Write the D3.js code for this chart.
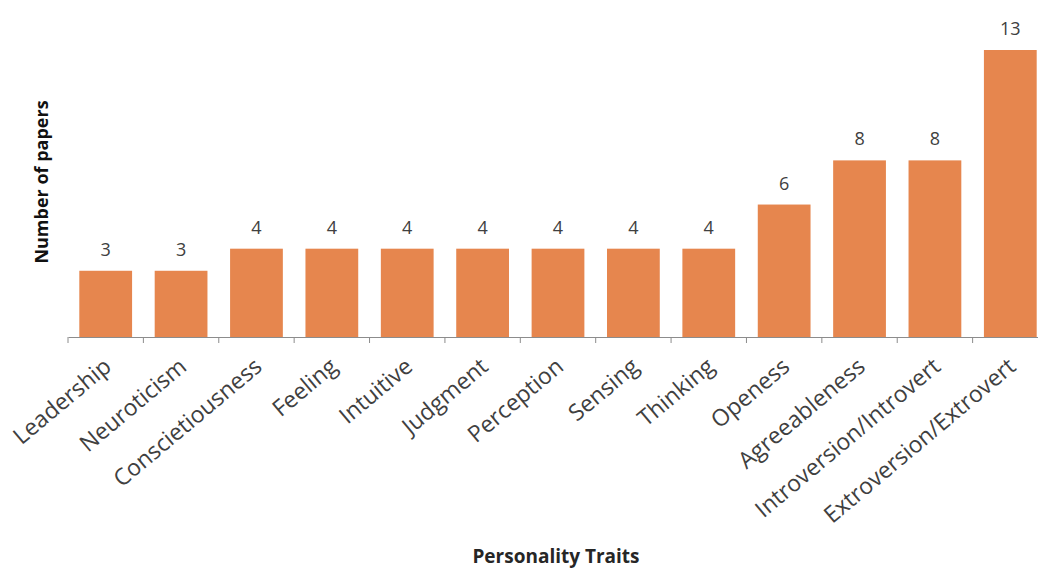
<!DOCTYPE html>
<html lang="en">
<head>
    <meta charset="UTF-8">
    <title>Personality Traits</title>
    <script src="https://cdnjs.cloudflare.com/ajax/libs/d3/7.8.5/d3.min.js"></script>
    <style>
        body { margin: 0; background: #fff; }
        svg { display: block; }
    </style>
</head>
<body>
    <div id="wrapper"></div>
    <script>
        const traits = ['Leadership', 'Neuroticism', 'Conscietiousness', 'Feeling', 'Intuitive', 'Judgment',
            'Perception', 'Sensing', 'Thinking', 'Openess', 'Agreeableness', 'Introversion/Introvert', 'Extroversion/Extrovert']
        const papers = [3, 3, 4, 4, 4, 4, 4, 4, 4, 6, 8, 8, 13]

        function drawBars() {
            const dataset = traits.map((t, i) => ({ trait: t, count: papers[i] }))
            const xAccessor = d => d.trait
            const yAccessor = d => d.count

            // 尺寸
            let dimensions = {
                width: 1038,
                height: 569,
                margin: { top: 50, right: -10, bottom: 232, left: 68 }
            }
            dimensions.boundedWidth = dimensions.width - dimensions.margin.left - dimensions.margin.right
            dimensions.boundedHeight = dimensions.height - dimensions.margin.top - dimensions.margin.bottom

            const wrapper = d3.select('#wrapper')
                .append('svg')
                    .attr('width', dimensions.width)
                    .attr('height', dimensions.height)

            const bounds = wrapper.append('g')
                .attr('transform', `translate(${dimensions.margin.left},${dimensions.margin.top})`)

            // 比例尺
            const xScale = d3.scaleBand()
                .domain(traits)
                .range([0, dimensions.boundedWidth])
                .paddingInner(0.3)
                .paddingOuter(0.15)

            const yScale = d3.scaleLinear()
                .domain([0, 13])
                .range([dimensions.boundedHeight, 0])

            // 柱子
            bounds.selectAll('rect')
                .data(dataset)
                .join('rect')
                    .attr('x', d => xScale(xAccessor(d)))
                    .attr('y', d => yScale(yAccessor(d)))
                    .attr('width', xScale.bandwidth())
                    .attr('height', d => dimensions.boundedHeight - yScale(yAccessor(d)))
                    .attr('fill', '#e6864e')

            bounds.selectAll('.value')
                .data(dataset)
                .join('text')
                    .attr('class', 'value')
                    .attr('x', d => xScale(xAccessor(d)) + xScale.bandwidth() / 2)
                    .attr('y', d => yScale(yAccessor(d)) - 15)
                    .attr('text-anchor', 'middle')
                    .attr('fill', '#404040')
                    .style('font-family', 'Open Sans')
                    .style('font-size', '18px')
                    .text(yAccessor)

            // x轴
            const xAxis = bounds.append('g')
                .attr('transform', `translate(0,${dimensions.boundedHeight})`)
                .call(d3.axisBottom(xScale).tickSize(0).tickPadding(0))
            xAxis.select('.domain').attr('stroke', '#8c8c8c')
            xAxis.selectAll('.tick text')
                .attr('transform', 'translate(7,32) rotate(-40)')
                .attr('text-anchor', 'end')
                .attr('dy', 0)
                .attr('fill', '#404040')
                .style('font-family', 'Open Sans')
                .style('font-size', '23px')

            // 刻度线在类别之间
            const gap = (xScale.step() - xScale.bandwidth()) / 2
            const boundaries = traits.map(t => xScale(t) - gap)
            xAxis.selectAll('.sep')
                .data(boundaries)
                .join('line')
                    .attr('class', 'sep')
                    .attr('x1', d => d).attr('x2', d => d)
                    .attr('y1', 0).attr('y2', 6)
                    .attr('stroke', '#8c8c8c')

            xAxis.append('text')
                .attr('x', 488)
                .attr('y', 226)
                .attr('text-anchor', 'middle')
                .attr('fill', '#262626')
                .style('font-family', 'Open Sans')
                .style('font-weight', 'bold')
                .style('font-size', '19px')
                .text('Personality Traits')

            // y轴标题
            wrapper.append('text')
                .attr('transform', 'translate(48,182) rotate(-90)')
                .attr('text-anchor', 'middle')
                .attr('fill', '#111')
                .style('font-family', 'Open Sans')
                .style('font-weight', 'bold')
                .style('font-size', '18px')
                .text('Number of papers')
        }

        drawBars()
    </script>
</body>
</html>
